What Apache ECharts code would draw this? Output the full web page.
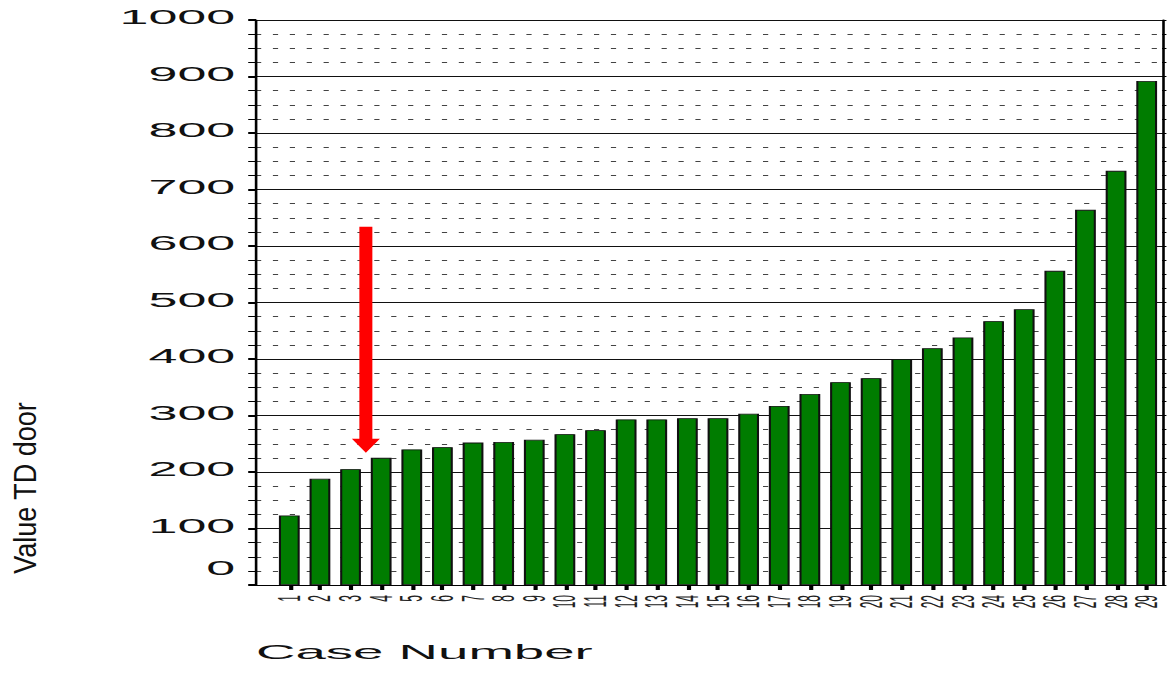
<!DOCTYPE html>
<html>
<head>
<meta charset="utf-8">
<script src="https://cdn.jsdelivr.net/npm/echarts@6/dist/echarts.min.js"></script>
<style>
html, body { margin: 0; padding: 0; background: #fff; overflow: hidden; }
/* the source picture is stretched sideways, so the chart is drawn narrow and scaled */
#chart { width: 450px; height: 676px; transform: scaleX(2.6); transform-origin: 0 0; }
</style>
</head>
<body>
<div id="chart"></div>
<script>
var SX = 2.6;
var cases = ['1','2','3','4','5','6','7','8','9','10','11','12','13','14','15',
	'16','17','18','19','20','21','22','23','24','25','26','27','28','29'];
var tdValues = [123, 188, 205, 225, 240, 244, 252, 253, 257, 267, 274, 293, 293, 295, 295,
	303, 317, 338, 359, 366, 400, 419, 438, 467, 488, 556, 664, 733, 892];
var yMin = 0, yMax = 1000, yStep = 100;
var arrowCases = ['3', '4'];
var arrowFrom = 634, arrowTo = 234;

var font = 'Liberation Sans, Arial, sans-serif';

var myChart = echarts.init(document.getElementById('chart'), null, { renderer: 'svg' });

var option = {
	animation: false,
	grid: [
		{ left: 256 / SX, right: 8 / SX, top: 20, bottom: 91 },
		{ left: 274 / SX, right: 8 / SX, top: 20, bottom: 91 }
	],
	xAxis: [{
		gridIndex: 0, type: 'value', min: 0, max: 1,
		axisLine: { show: true, lineStyle: { color: '#000', width: 1 } },
		axisTick: { show: false }, axisLabel: { show: false }, splitLine: { show: false },
		name: 'Case Number', nameLocation: 'start', nameGap: 0,
		nameTextStyle: { fontFamily: font, fontSize: 21, color: '#111', align: 'left', verticalAlign: 'top', padding: [56, 0, 0, 0] }
	}, {
		gridIndex: 1, type: 'category', data: cases,
		axisLine: { show: false },
		axisTick: { show: true, alignWithLabel: true, interval: 0, length: 5, lineStyle: { color: '#000', width: 1.6 } },
		axisLabel: { interval: 0, rotate: 90, margin: 10, fontFamily: font, fontSize: 12, color: '#222' }
	}],
	yAxis: [{
		gridIndex: 0, type: 'value', min: yMin, max: yMax, interval: yStep,
		axisLine: { show: true, lineStyle: { color: '#000', width: 1 } },
		axisTick: { show: true, length: 3, lineStyle: { color: '#000', width: 2 } },
		minorTick: { show: true, splitNumber: 4, length: 3, lineStyle: { color: '#000', width: 1 } },
		splitLine: { show: true, lineStyle: { color: '#111', width: 1 } },
		minorSplitLine: { show: true, lineStyle: { color: '#444', width: 1, type: [2, 4.5] } },
		axisLabel: {
			margin: 8,
			formatter: function(v) { return v === 0 ? '{z|0}' : '{a|' + v + '}'; },
			rich: {
				a: { fontFamily: font, fontSize: 20, color: '#111', padding: [0, 0, 6, 0] },
				z: { fontFamily: font, fontSize: 20, color: '#111', padding: [0, 0, 34, 0] }
			}
		}
	}, {
		gridIndex: 0, type: 'value', position: 'right', min: yMin, max: yMax, interval: yStep,
		axisLine: { show: true, lineStyle: { color: '#000', width: 1 } },
		axisTick: { show: true, length: 1.7, lineStyle: { color: '#000' } },
		minorTick: { show: true, splitNumber: 4, length: 1.7, lineStyle: { color: '#000' } },
		axisLabel: { show: false }, splitLine: { show: false }
	}, {
		gridIndex: 1, type: 'value', min: yMin, max: yMax, interval: yStep, show: false,
		splitLine: { show: false }
	}],
	series: [{
		type: 'bar', xAxisIndex: 1, yAxisIndex: 2,
		data: tdValues, barWidth: 8,
		itemStyle: { color: '#007c00', borderColor: '#111', borderWidth: 0.8 }
	}]
};
myChart.setOption(option);

// red arrow between case 3 and 4, y title
var pA = myChart.convertToPixel({ gridIndex: 1 }, [arrowCases[0], arrowFrom]);
var pB = myChart.convertToPixel({ gridIndex: 1 }, [arrowCases[1], arrowTo]);
var ax = (pA[0] + pB[0]) / 2;
var shaftW = 13 / SX / 2, headW = 28 / SX / 2, headH = 14;
myChart.setOption({
	graphic: [{
		type: 'polygon', z: 100,
		shape: { points: [
			[ax - shaftW, pA[1]], [ax + shaftW, pA[1]], [ax + shaftW, pB[1] - headH],
			[ax + headW, pB[1] - headH], [ax, pB[1]], [ax - headW, pB[1] - headH],
			[ax - shaftW, pB[1] - headH]
		] },
		style: { fill: '#ff0000' }
	}, {
		type: 'text', x: 25 / SX, y: 488, rotation: Math.PI / 2, scaleY: 1.15 / SX,
		style: { text: 'Value TD door', fontFamily: font, fontSize: 27, fill: '#111', align: 'center', verticalAlign: 'middle' }
	}]
});
</script>
</body>
</html>
